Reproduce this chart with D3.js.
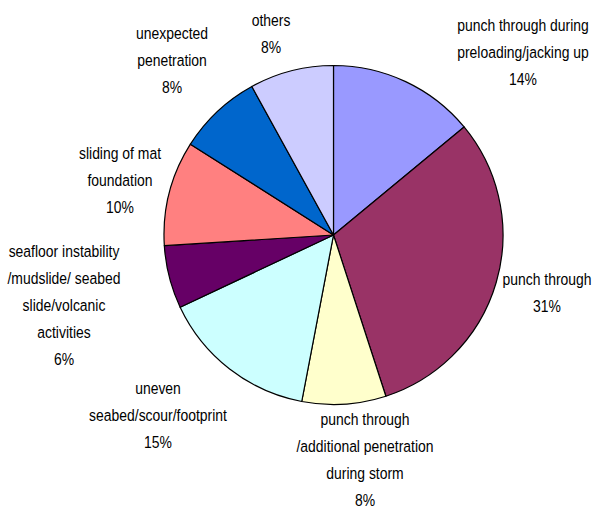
<!DOCTYPE html>
<html>
<head>
<meta charset="utf-8">
<script src="https://cdn.jsdelivr.net/npm/d3@7/dist/d3.min.js"></script>
<style>
  html, body { margin: 0; padding: 0; background: #fff; }
  svg { display: block; }
  .lbl { font-family: "Liberation Sans", Arial, sans-serif; font-size: 17px; fill: #000; }
</style>
</head>
<body>
<svg id="chart" width="595" height="509"></svg>
<script>
// Causes of jack-up incidents, share of total (%)
const categories = [
  "punch through during preloading/jacking up",
  "punch through",
  "punch through /additional penetration during storm",
  "uneven seabed/scour/footprint",
  "seafloor instability /mudslide/ seabed slide/volcanic activities",
  "sliding of mat foundation",
  "unexpected penetration",
  "others"
];
const values = [14, 31, 8, 15, 6, 10, 8, 8];

// Label text as wrapped lines (percentage added as the last line)
const labelLines = [
  ["punch through during", "preloading/jacking up"],
  ["punch through"],
  ["punch through", "/additional penetration", "during storm"],
  ["uneven", "seabed/scour/footprint"],
  ["seafloor instability", "/mudslide/ seabed", "slide/volcanic", "activities"],
  ["sliding of mat", "foundation"],
  ["unexpected", "penetration"],
  ["others"]
];

const colors = ["#9999FF", "#993366", "#FFFFCC", "#CCFFFF", "#660066", "#FF8080", "#0066CC", "#CCCCFF"];

// Label block anchors: centre x and first-line centre y
const labelAnchors = [
  [523, 25], [547, 279], [365, 419], [158, 388],
  [64, 251], [120, 153], [172, 33], [271, 20]
];
const lineGap = 27;
const condense = 0.82; // narrow-face look

const cx = 333.5, cy = 235, radius = 169.5;

const svg = d3.select("#chart");
const g = svg.append("g").attr("transform", `translate(${cx},${cy})`);

const pie = d3.pie().sort(null).value(d => d.value);
const arc = d3.arc().innerRadius(0).outerRadius(radius);

const data = categories.map((c, i) => ({ name: c, value: values[i], color: colors[i] }));

g.selectAll("path.slice")
  .data(pie(data))
  .join("path")
  .attr("class", "slice")
  .attr("d", arc)
  .attr("fill", d => d.data.color)
  .attr("stroke", "#000")
  .attr("stroke-width", 1.2)
  .attr("stroke-linejoin", "round");

const labels = svg.selectAll("text.lbl")
  .data(data)
  .join("text")
  .attr("class", "lbl")
  .attr("text-anchor", "middle")
  .attr("transform", (d, i) => `translate(${labelAnchors[i][0]},${labelAnchors[i][1]}) scale(${condense},1)`);

labels.each(function (d, i) {
  const lines = labelLines[i].concat([d.value + "%"]);
  d3.select(this).selectAll("tspan")
    .data(lines)
    .join("tspan")
    .attr("x", 0)
    .attr("y", (l, k) => k * lineGap)
    .attr("dominant-baseline", "central")
    .text(l => l);
});
</script>
</body>
</html>
